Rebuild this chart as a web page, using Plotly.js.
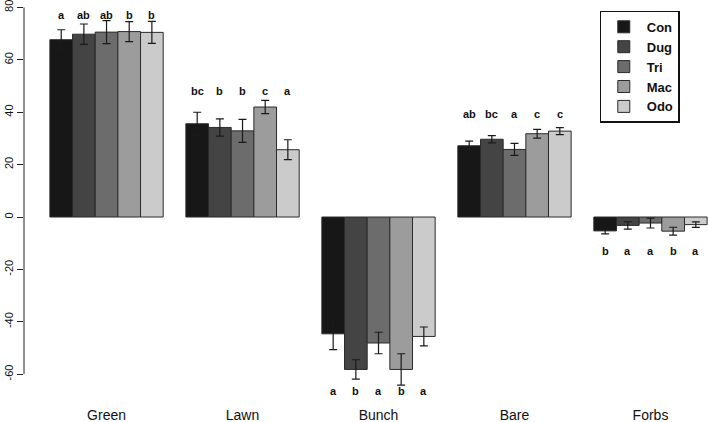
<!DOCTYPE html>
<html>
<head>
<meta charset="utf-8">
<script src="https://cdn.plot.ly/plotly-3.0.1.min.js"></script>
<style>html,body{margin:0;padding:0;background:#fff;}#chart{width:708px;height:422px;}</style>
</head>
<body>
<div id="chart"></div>
<script>
// ---- data ----
const groups = ['Green', 'Lawn', 'Bunch', 'Bare', 'Forbs'];
const treatments = ['Con', 'Dug', 'Tri', 'Mac', 'Odo'];

const con = [67.7, 35.6, -44.6, 27.2, -5.3];
const dug = [69.8, 34.2, -58.2, 29.7, -3.2];
const tri = [70.6, 32.9, -48.1, 25.8, -2.3];
const mac = [70.8, 42.0, -58.2, 31.8, -5.4];
const odo = [70.5, 25.7, -45.6, 32.8, -2.9];

const conSE = [3.8, 4.4, 6.0, 1.8, 1.1];
const dugSE = [3.9, 3.3, 3.7, 1.4, 1.4];
const triSE = [4.4, 4.4, 4.1, 2.3, 1.9];
const macSE = [3.8, 2.5, 6.0, 1.65, 1.5];
const odoSE = [4.2, 3.8, 3.6, 1.35, 1.05];

const conLetters = ['a', 'bc', 'a', 'ab', 'b'];
const dugLetters = ['ab', 'b', 'b', 'bc', 'a'];
const triLetters = ['ab', 'b', 'a', 'a', 'a'];
const macLetters = ['b', 'c', 'b', 'c', 'b'];
const odoLetters = ['b', 'a', 'a', 'c', 'a'];

const yTicks = [-60, -40, -20, 0, 20, 40, 60, 80];

// ---- styling ----
const series = [con, dug, tri, mac, odo];
const ses = [conSE, dugSE, triSE, macSE, odoSE];
const letters = [conLetters, dugLetters, triLetters, macLetters, odoLetters];
const colors = ['#171717', '#444444', '#6c6c6c', '#9c9c9c', '#cbcbcb'];
const letterHeights = [77.1, 48.2, -66.5, 39.5, -12.9]; // label placement per group
const FONT = 'Liberation Sans, Arial, Helvetica, sans-serif';

const traces = treatments.map((name, i) => ({
  type: 'bar',
  name: name,
  x: groups,
  y: series[i],
  marker: {color: colors[i], line: {color: '#2b2b2b', width: 1}},
  error_y: {type: 'data', array: ses[i], visible: true, color: '#1a1a1a', thickness: 1.2, width: 4},
  hoverinfo: 'x+y+name'
}));

const nT = treatments.length;
const bargap = 1 / (nT + 1);
const barW = (1 - bargap) / nT;
const annotations = [];
groups.forEach((g, gi) => {
  treatments.forEach((t, ti) => {
    annotations.push({
      x: gi + (ti - (nT - 1) / 2) * barW,
      y: letterHeights[gi],
      xref: 'x', yref: 'y',
      text: '<b>' + letters[ti][gi] + '</b>',
      showarrow: false,
      font: {family: FONT, size: 11, color: '#111'},
      xanchor: 'center', yanchor: 'middle'
    });
  });
});

const layout = {
  width: 708, height: 422,
  margin: {l: 24, r: 0, t: 2, b: 27},
  paper_bgcolor: '#fff', plot_bgcolor: '#fff',
  barmode: 'group', bargap: bargap, bargroupgap: 0,
  showlegend: true,
  legend: {
    x: 0.8415, y: 0.978, xanchor: 'left', yanchor: 'top',
    bordercolor: '#111', borderwidth: 1.2, bgcolor: '#fff',
    itemwidth: 36,
    font: {family: FONT, size: 13, color: '#111', weight: 'bold'},
    traceorder: 'normal'
  },
  xaxis: {
    type: 'category',
    range: [-0.607, 4.423],
    showline: false, showgrid: false, zeroline: false,
    ticks: '', ticklabelstandoff: 10,
    tickfont: {family: FONT, size: 14, color: '#111'}
  },
  yaxis: {
    range: [-67.96, 82.1],
    showline: false, showgrid: false, zeroline: false,
    tickvals: yTicks, ticktext: yTicks.map(String),
    ticks: 'outside', ticklen: 6, tickwidth: 1, tickcolor: '#222',
    tickangle: -90, ticklabeloverflow: 'allow',
    tickfont: {family: FONT, size: 11, color: '#111'}
  },
  shapes: [{
    type: 'line', xref: 'paper', yref: 'y',
    x0: 0, x1: 0, y0: yTicks[0], y1: yTicks[yTicks.length - 1],
    line: {color: '#222', width: 1}
  }],
  annotations: annotations,
  font: {family: FONT}
};

Plotly.newPlot('chart', traces, layout, {displayModeBar: false, staticPlot: true});
</script>
</body>
</html>
